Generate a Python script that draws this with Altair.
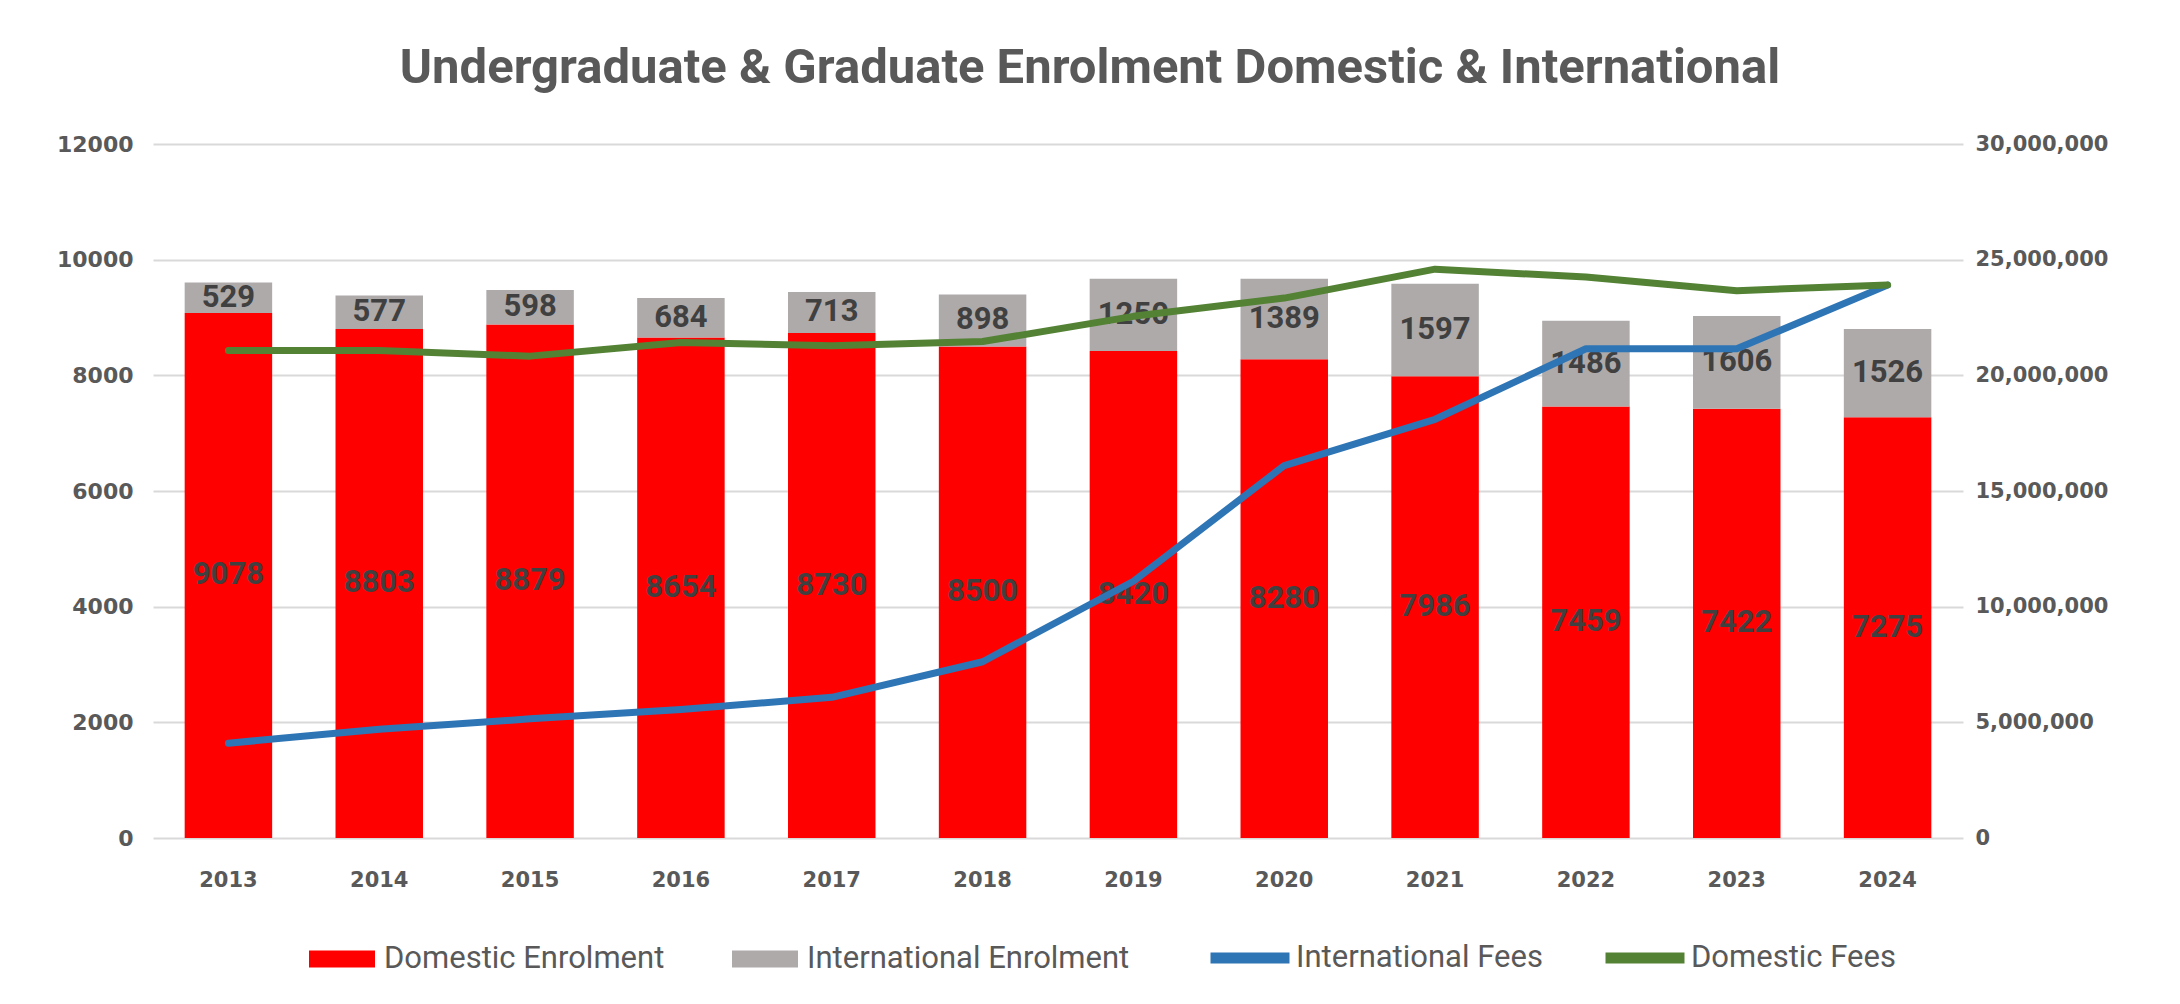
import altair as alt
import pandas as pd

years = ["2013", "2014", "2015", "2016", "2017", "2018", "2019", "2020", "2021", "2022", "2023", "2024"]
domestic_enrolment = [9078, 8803, 8879, 8654, 8730, 8500, 8420, 8280, 7986, 7459, 7422, 7275]
international_enrolment = [529, 577, 598, 684, 713, 898, 1250, 1389, 1597, 1486, 1606, 1526]
international_fees = [4100000, 4700000, 5150000, 5550000, 6080000, 7620000, 11100000,
                      16100000, 18100000, 21150000, 21150000, 23900000]
domestic_fees = [21070000, 21070000, 20830000, 21420000, 21280000, 21460000, 22550000,
                 23340000, 24590000, 24250000, 23660000, 23910000]

bar_series = ["Domestic Enrolment", "International Enrolment"]
line_series = ["International Fees", "Domestic Fees"]

bars_df = pd.DataFrame({
    "year": years * 2,
    "series": [bar_series[0]] * len(years) + [bar_series[1]] * len(years),
    "value": domestic_enrolment + international_enrolment,
    "order": [0] * len(years) + [1] * len(years),
})
lines_df = pd.DataFrame({
    "year": years * 2,
    "series": [line_series[0]] * len(years) + [line_series[1]] * len(years),
    "fees": international_fees + domestic_fees,
})

TXT = "#595959"
AXFONT = "DejaVu Sans"
LEGFONT = "Roboto"

x = alt.X("year:N", sort=years,
          scale=alt.Scale(paddingInner=0.42, paddingOuter=0.21),
          axis=alt.Axis(title=None, labelAngle=0, labelFont=AXFONT, labelFontWeight="bold",
                        labelFontSize=21, labelColor=TXT, labelPadding=31, ticks=False, domain=False))

left_scale = alt.Scale(domain=[0, 12000], nice=False)
left_axis = alt.Axis(title=None, values=list(range(0, 12001, 2000)), grid=True, gridColor="#D9D9D9",
                     gridWidth=2, domain=False, ticks=False, labelFont=AXFONT, labelFontWeight="bold",
                     labelFontSize=22, labelColor=TXT, labelPadding=20,
                     labelExpr="format(datum.value, 'd')")

bars = alt.Chart(bars_df).mark_bar().encode(
    x=x,
    y=alt.Y("value:Q", stack="zero", scale=left_scale, axis=left_axis),
    color=alt.Color("series:N",
                    scale=alt.Scale(domain=bar_series, range=["#FF0000", "#AEAAAA"]),
                    legend=alt.Legend(title=None, orient="none", legendX=156, legendY=782,
                                      direction="horizontal",
                                      symbolType="M-1,-0.26H1V0.26H-1Z", symbolSize=4356,
                                      symbolStrokeWidth=0, symbolOpacity=1,
                                      labelFont=LEGFONT, labelFontSize=31, labelColor=TXT,
                                      labelLimit=600, labelOffset=9, columnPadding=67)),
    order=alt.Order("order:Q"),
)

labels = alt.Chart(bars_df).transform_stack(
    stack="value", groupby=["year"], as_=["v0", "v1"],
    sort=[alt.SortField("order", order="ascending")]
).transform_calculate(
    mid="(datum.v0 + datum.v1) / 2"
).mark_text(font="Roboto", fontWeight="bold", fontSize=31, color="#404040").encode(
    x=x,
    y=alt.Y("mid:Q", scale=left_scale, axis=left_axis),
    text=alt.Text("value:Q", format="d"),
)

lines = alt.Chart(lines_df).mark_line(strokeWidth=7, strokeCap="round", strokeJoin="round").encode(
    x=x,
    y=alt.Y("fees:Q", scale=alt.Scale(domain=[0, 30000000], nice=False),
            axis=alt.Axis(orient="right", title=None,
                          values=[0, 5000000, 10000000, 15000000, 20000000, 25000000, 30000000],
                          grid=False, domain=False, ticks=False, labelFont=AXFONT,
                          labelFontWeight="bold", labelFontSize=21, labelColor=TXT, labelPadding=12,
                          labelExpr="format(datum.value, ',')")),
    stroke=alt.Stroke("series:N",
                      scale=alt.Scale(domain=line_series, range=["#2E75B6", "#548235"]),
                      legend=alt.Legend(title=None, orient="none", legendX=1052, legendY=769,
                                        direction="horizontal",
                                        symbolType="stroke", symbolSize=6241, symbolStrokeWidth=11,
                                        labelFont=LEGFONT, labelFontSize=31, labelColor=TXT,
                                        labelLimit=600, labelOffset=1, columnPadding=40)),
)

left = alt.layer(bars, labels)
chart = alt.layer(left, lines).resolve_scale(y="independent").properties(
    width=1810,
    height=694,
    title=alt.TitleParams("Undergraduate & Graduate Enrolment Domestic & International",
                          font="Roboto", fontSize=49, fontWeight="bold", color=TXT,
                          anchor="middle", offset=40, dx=32),
    autosize=alt.AutoSizeParams(type="none"),
    padding={"left": 145, "top": 136, "right": 200, "bottom": 158},
).configure_view(stroke=None)

chart.save("out.html", embed_options={"renderer": "svg", "actions": False})
